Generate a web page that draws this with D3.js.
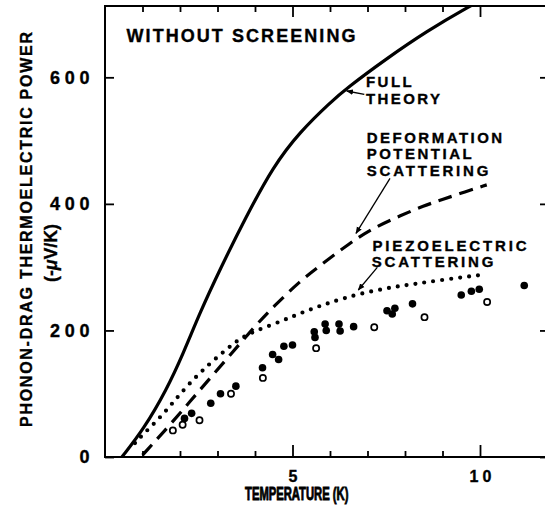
<!DOCTYPE html>
<html><head><meta charset="utf-8">
<script src="https://cdn.jsdelivr.net/npm/d3@7"></script>
<style>html,body{margin:0;padding:0;background:#fff;} svg{display:block;}</style>
</head><body>
<svg id="c" width="545" height="505"></svg>
<script>
// ---- data ----
const fullT = [0.45,1.02,1.64,2.09,2.53,3.07,3.73,4.49,5.2,6.0,6.45,7.47,8.58,9.73,10.0];
const fullS = [0,43,106,164,228,297,376,460,514,560,583,628,673,713,720];

const deformT = [1.0,1.8,2.5,3.25,4.0,4.5,5.2,5.75,6.5,7.15,7.9,8.5,9.0,9.6,10.18];
const deformS = [3,55,104,155,207,238,278,303,337,362,382,397,407,419,430];

const piezoT = [0.8,1.0,1.4,1.8,2.27,2.8,3.2,3.5,3.9,4.5,5.0,5.5,6.0,6.7,7.7,8.2,9.0,10.07];
const piezoS = [22,35,58,85,118,148,168,183,197,210,222,234,244,257,269,273,280,288];

const filledT = [2.12,2.31,2.82,3.08,3.49,4.2,4.47,4.63,4.77,5.0,5.58,5.6,5.87,5.9,6.24,6.27,6.63,7.52,7.66,7.73,8.2,9.5,9.77,9.98,11.18];
const filledS = [61,69,85,100,112,141,162,154,175,177,198,189,210,200,210,199,206,231,226,235,242,256,262,265,271];

const openT = [1.81,2.07,2.52,3.36,4.21,5.63,7.18,8.52,10.19];
const openS = [42,51,58,100,125,172,205,221,245];

const xMinorTicks = [1,2,3,4,6,7,8,9];
const xMajorTicks = [5,10];
const yTicks = [0,200,400,600];

const titleText = "WITHOUT SCREENING";
const xLabel = "TEMPERATURE (K)";
const yLabel1 = "PHONON-DRAG THERMOELECTRIC POWER";

// ---- layout ----
const FONT = "'Liberation Sans', Arial, Helvetica, sans-serif";
const L = 105, R = 549, T = 6, B = 457;
const x = d3.scaleLinear().domain([0, 11.84]).range([L, R]);
const y = d3.scaleLinear().domain([0, 712.7]).range([B, T]);

const svg = d3.select("#c");
svg.append("rect").attr("width",545).attr("height",505).attr("fill","#fff");

const defs = svg.append("defs");
defs.append("clipPath").attr("id","clip")
  .append("rect").attr("x",L).attr("y",T).attr("width",R-L).attr("height",B-T);
const mk = defs.append("marker").attr("id","arr")
  .attr("viewBox","0 0 10 10").attr("refX",9).attr("refY",5)
  .attr("markerWidth",7).attr("markerHeight",7).attr("markerUnits","userSpaceOnUse")
  .attr("orient","auto");
mk.append("path").attr("d","M0,1 L10,5 L0,9 Z").attr("fill","#000");

// frame
svg.append("rect").attr("x",L).attr("y",T).attr("width",R-L).attr("height",B-T)
  .attr("fill","none").attr("stroke","#000").attr("stroke-width",2);

function boldText(sel){
  sel.attr("fill","#000").attr("font-family",FONT).attr("font-weight","bold")
    .attr("stroke","#000").attr("stroke-width",0.35);
}
function styleAxis(g){
  g.select(".domain").remove();
  g.selectAll(".tick line").attr("stroke","#000").attr("stroke-width",1.8);
  g.selectAll("text").call(boldText);
}
// bottom
svg.append("g").attr("transform",`translate(0,${B})`)
  .call(d3.axisBottom(x).tickValues(xMinorTicks).tickSize(-6).tickFormat("")).call(styleAxis);
const bx = svg.append("g").attr("transform",`translate(0,${B})`)
  .call(d3.axisBottom(x).tickValues(xMajorTicks).tickSize(-12).tickPadding(14).tickFormat(d3.format("d"))).call(styleAxis);
bx.selectAll("text").attr("font-size",16).attr("dy","0.71em")
  .each(function(d){ if(String(d).length>1) d3.select(this).attr("textLength",22); });
// top
svg.append("g").attr("transform",`translate(0,${T})`)
  .call(d3.axisTop(x).tickValues(xMinorTicks).tickSize(-6).tickFormat("")).call(styleAxis);
svg.append("g").attr("transform",`translate(0,${T})`)
  .call(d3.axisTop(x).tickValues(xMajorTicks).tickSize(-11).tickFormat("")).call(styleAxis);
// left
const ly = svg.append("g").attr("transform",`translate(${L},0)`)
  .call(d3.axisLeft(y).tickValues(yTicks).tickSize(-9).tickPadding(15.5).tickFormat(d3.format("d"))).call(styleAxis);
ly.selectAll("text").attr("font-size",18)
  .each(function(d){ const s=String(d); if(s.length>1) d3.select(this).attr("textLength",s.length*13.3-0.5); });
// right
svg.append("g").attr("transform",`translate(${R},0)`)
  .call(d3.axisRight(y).tickValues(yTicks).tickSize(-9).tickFormat("")).call(styleAxis);

// curves
const plot = svg.append("g").attr("clip-path","url(#clip)");
const line = d3.line().x(d=>x(d[0])).y(d=>y(d[1])).curve(d3.curveBasis);
plot.append("path").datum(d3.zip(fullT,fullS)).attr("d",line)
  .attr("fill","none").attr("stroke","#000").attr("stroke-width",3.2);
plot.append("path").datum(d3.zip(deformT,deformS)).attr("d",line)
  .attr("fill","none").attr("stroke","#000").attr("stroke-width",3.2)
  .attr("stroke-dasharray","14,8");
plot.append("path").datum(d3.zip(piezoT,piezoS)).attr("d",line)
  .attr("fill","none").attr("stroke","#000").attr("stroke-width",4.2)
  .attr("stroke-linecap","round").attr("stroke-dasharray","0,9");

// data points
plot.selectAll("circle.f").data(d3.zip(filledT,filledS)).join("circle").attr("class","f")
  .attr("cx",d=>x(d[0])).attr("cy",d=>y(d[1])).attr("r",3.8).attr("fill","#000");
plot.selectAll("circle.o").data(d3.zip(openT,openS)).join("circle").attr("class","o")
  .attr("cx",d=>x(d[0])).attr("cy",d=>y(d[1])).attr("r",3.1)
  .attr("fill","#fff").attr("stroke","#000").attr("stroke-width",1.7);

// texts
function txt(t, px, py, size, len){
  const e = svg.append("text").attr("x",px).attr("y",py).text(t)
    .attr("font-size",size).call(boldText);
  if(len) e.attr("textLength",len).attr("lengthAdjust","spacing");
  return e;
}
function fitText(g, target){
  const t = g.select("text");
  const w = t.node().getComputedTextLength();
  t.attr("transform",`scale(${target/w},1)`);
}
txt(titleText, 126.5, 41.7, 18, 229);
txt("FULL", 366, 87.3, 15, 45.7);
txt("THEORY", 366, 104, 15, 74);
txt("DEFORMATION", 366.7, 143.3, 15, 135.5);
txt("POTENTIAL", 366.7, 159.3, 15, 105);
txt("SCATTERING", 366.7, 175.7, 15, 121.7);
txt("PIEZOELECTRIC", 372.5, 250.7, 15, 154);
txt("SCATTERING", 371.7, 266.7, 15, 121.7);

// x axis title (condensed)
const gx = svg.append("g").attr("transform","translate(296.7,499.5)");
gx.append("text").attr("text-anchor","middle").attr("font-size",17.5).text(xLabel)
  .call(boldText).attr("stroke-width",0.9);
fitText(gx, 103.5);

// y axis titles
svg.append("text").attr("transform","translate(31.7,229.5) rotate(-90)")
  .attr("x",0).attr("y",0).attr("text-anchor","middle").attr("font-size",16)
  .attr("textLength",395).attr("lengthAdjust","spacing").text(yLabel1).call(boldText);
const gy = svg.append("g").attr("transform","translate(56.5,253) rotate(-90)");
const yl2 = gy.append("text").attr("x",0).attr("y",0).attr("text-anchor","middle")
  .attr("font-size",17.5).call(boldText);
yl2.append("tspan").text("(-");
yl2.append("tspan").attr("font-style","italic").text("\u03BC");
yl2.append("tspan").text("V/K)");
fitText(gy, 58);

// arrows
const arrows = [
  [[364.3,94.3],[346.7,91]],
  [[390,178.3],[356,233.3]],
  [[377.3,267.3],[358.3,290]]
];
svg.selectAll("line.arw").data(arrows).join("line").attr("class","arw")
  .attr("x1",d=>d[0][0]).attr("y1",d=>d[0][1]).attr("x2",d=>d[1][0]).attr("y2",d=>d[1][1])
  .attr("stroke","#000").attr("stroke-width",1.3).attr("marker-end","url(#arr)");
</script>
</body></html>
